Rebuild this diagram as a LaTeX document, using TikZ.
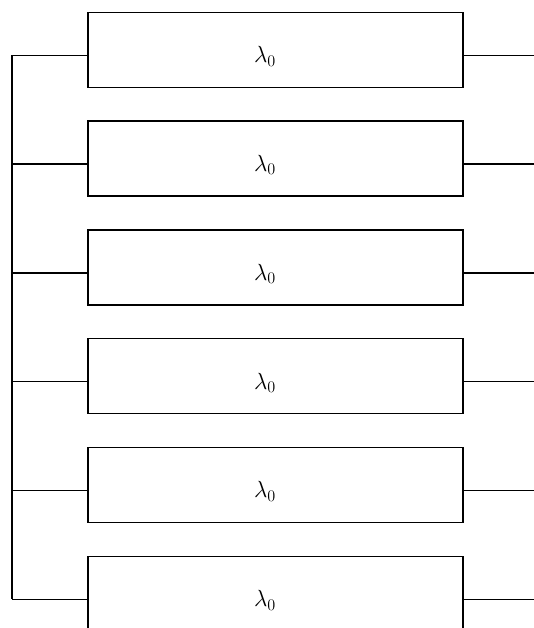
\documentclass[tikz,border=0pt]{standalone}
\begin{document}
\begin{tikzpicture}[x=1pt,y=-1pt,
  unitbox/.style={draw,line width=1.3pt,minimum width=375pt,minimum height=75pt,inner sep=0pt},
  rate/.style={font=\fontsize{17}{20}\selectfont,scale=1.35},
  wire/.style={line width=1.3pt}]
  \useasboundingbox (0,0) rectangle (534,628);
  \clip (0,0) rectangle (534,628);

  % Units in parallel
  \foreach \i in {1,...,6}{
    \pgfmathsetmacro{\yt}{12.3+108.8*(\i-1)}
    \node[unitbox] (unit\i) at (275.5,\yt+37.5) {};
    \node[rate] (lab\i) at (265,\yt+44) {$\lambda_0$};
    \coordinate (in\i) at (12,\yt+43);
    \coordinate (out\i) at (534,\yt+43);
    \draw[wire] (in\i) -- (in\i -| unit\i.west);
    \draw[wire] (out\i -| unit\i.east) -- (out\i);
  }

  % Common input bus
  \draw[wire] (in1) -- (in6);
\end{tikzpicture}
\end{document}
